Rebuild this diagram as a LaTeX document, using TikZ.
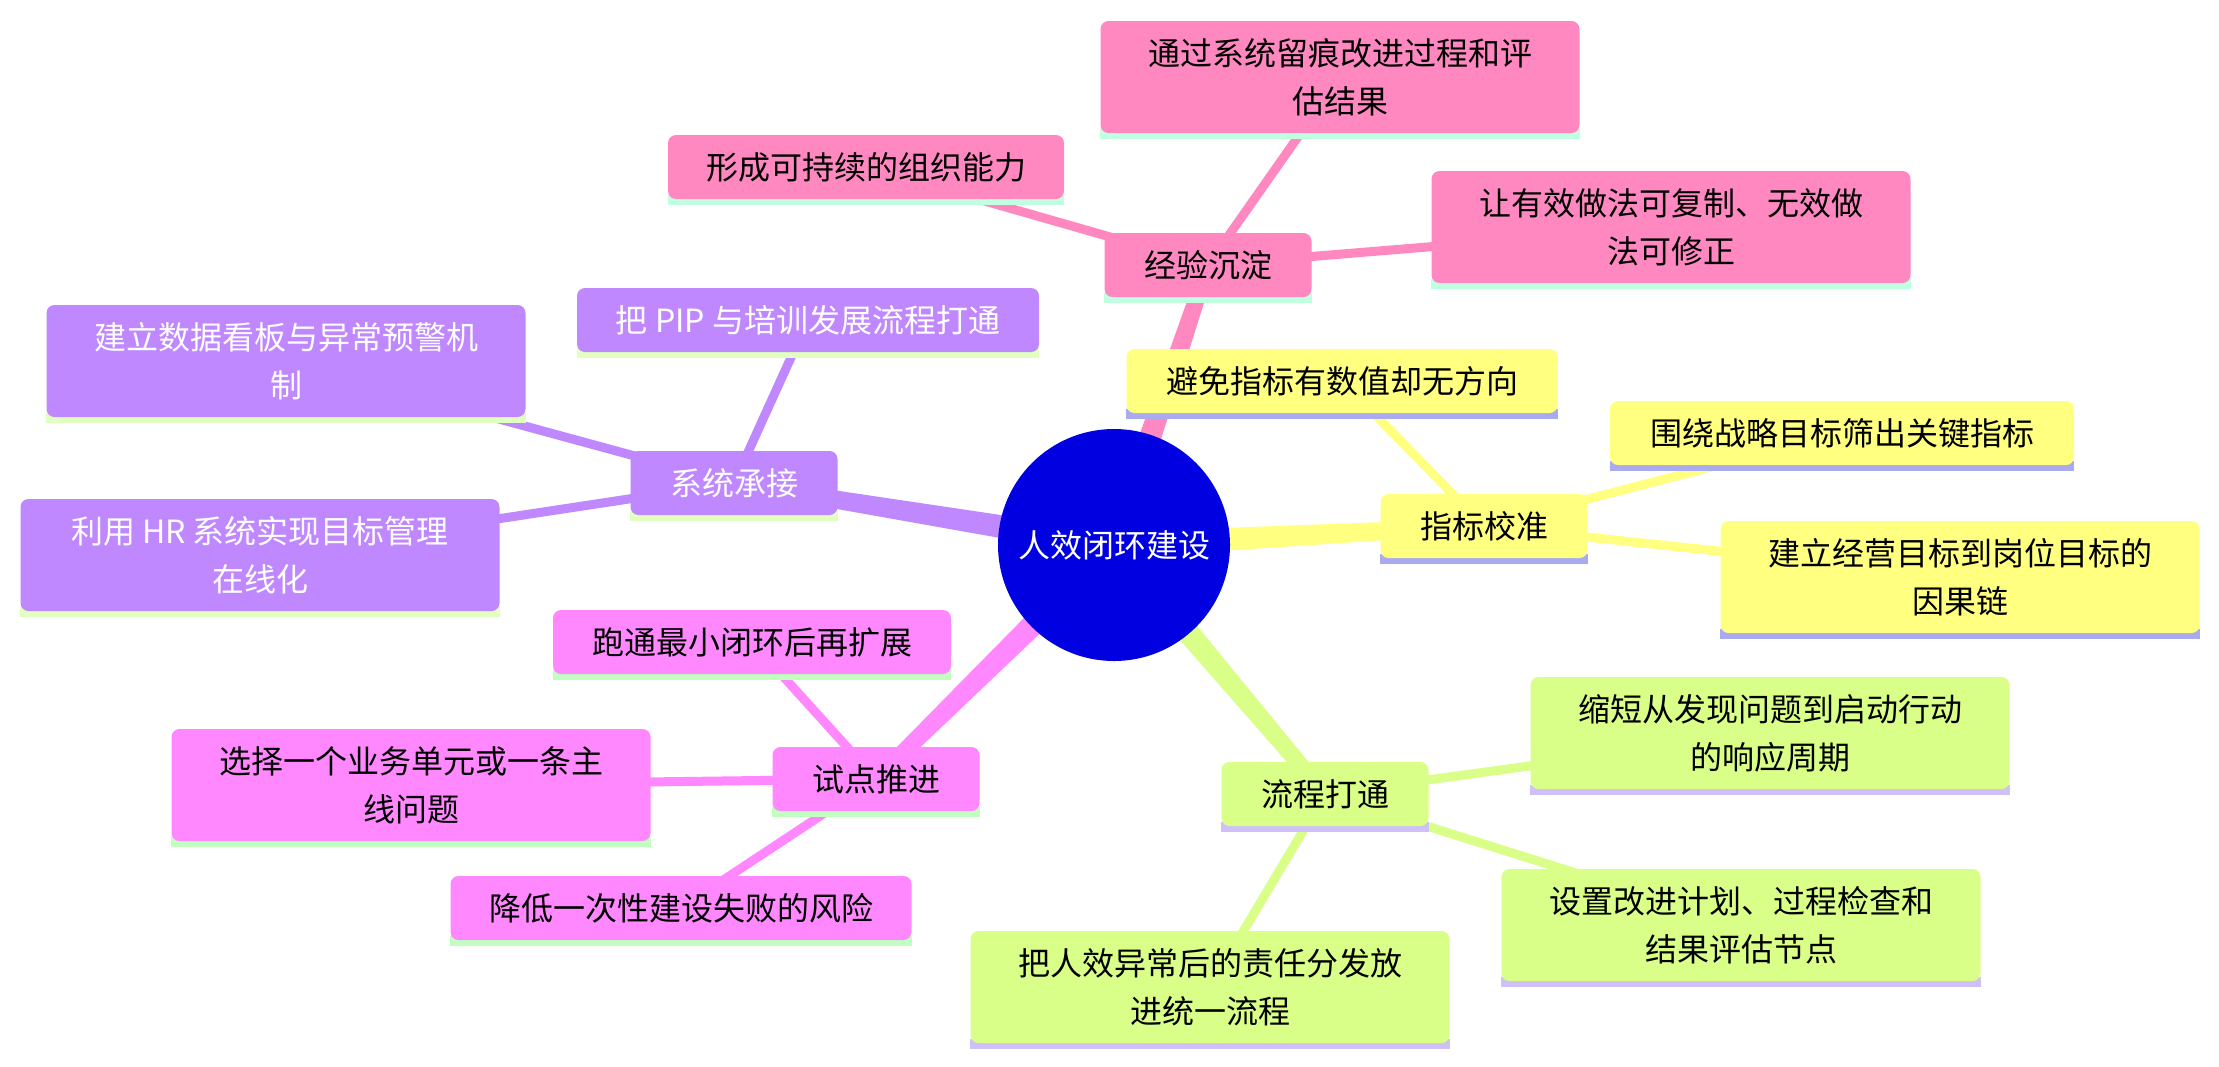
\documentclass[tikz,border=0pt]{standalone}
\usepackage{fontspec}
\setmainfont{Noto Sans CJK SC}
\usetikzlibrary{calc}
\definecolor{pinkc}{HTML}{FF88C0}
\definecolor{yelc}{HTML}{FFFF80}
\definecolor{grnc}{HTML}{D9FF88}
\definecolor{magc}{HTML}{FF88FF}
\definecolor{purc}{HTML}{C088FF}
\definecolor{stpink}{HTML}{C0FFE0}
\definecolor{styel}{HTML}{AAAAF0}
\definecolor{stgrn}{HTML}{D0C0F8}
\definecolor{stmag}{HTML}{C0FFC0}
\definecolor{stpur}{HTML}{E0FFC0}
\definecolor{hubc}{HTML}{0000E0}
\pgfdeclarelayer{bg}
\pgfdeclarelayer{edges}
\pgfdeclarelayer{stripes}
\pgfsetlayers{bg,edges,stripes,main}
\newcommand\mmtaper[3]{\fill[#1] ($(#2)!6.5pt!90:(#3)$) -- ($(#3)!3.8pt!-90:(#2)$) -- ($(#3)!3.8pt!90:(#2)$) -- ($(#2)!6.5pt!-90:(#3)$) -- cycle;}
\newcommand\mmstripe[2]{\fill[#1] ([yshift=2pt]#2.south west) rectangle ([yshift=-2.8pt]#2.south east);}
\begin{document}
\begin{tikzpicture}[x=0.5pt,y=-0.5pt,
  box/.style={rectangle, rounded corners=4pt, align=center, inner sep=0pt,
    font=\fontsize{16pt}{24pt}\selectfont, text=black},
  pbox/.style={box, fill=pinkc},
  ybox/.style={box, fill=yelc},
  gbox/.style={box, fill=grnc},
  mbox/.style={box, fill=magc},
  ubox/.style={box, fill=purc, text=white},
  one/.style={minimum height=32pt},
  two/.style={minimum height=56pt, minimum width=239.5pt},
  mid/.style={minimum width=103.5pt, minimum height=32pt},
  hub/.style={circle, fill=hubc, text=white, minimum size=116pt, inner sep=0pt,
    font=\fontsize{16pt}{24pt}\selectfont},
  cedge/.style={line width=4.5pt}
]
\useasboundingbox (0,0) rectangle (2219,1066);
\begin{pgfonlayer}{bg}
\fill[white] (0,0) rectangle (2219,1066);
\end{pgfonlayer}

% hub
\node[hub] (hub) at (1114,545) {人效闭环建设};

% pink branch
\node[pbox, mid] (jy) at (1208,265) {经验沉淀};
\node[pbox, two] (tg) at (1340,77) {通过系统留痕改进过程和评\\估结果};
\node[pbox, two] (ry) at (1671,227) {让有效做法可复制、无效做\\法可修正};
\node[pbox, one, minimum width=198pt] (xc) at (866,167) {形成可持续的组织能力};

% yellow branch
\node[ybox, mid] (zb) at (1484,526) {指标校准};
\node[ybox, one, minimum width=215.5pt] (bm) at (1342,381) {避免指标有数值却无方向};
\node[ybox, one, minimum width=232pt] (wr) at (1842,433) {围绕战略目标筛出关键指标};
\node[ybox, two] (jl) at (1960,577) {建立经营目标到岗位目标的\\因果链};

% green branch
\node[gbox, mid] (lc) at (1325,794) {流程打通};
\node[gbox, two] (sd) at (1770,733) {缩短从发现问题到启动行动\\的响应周期};
\node[gbox, two] (sz) at (1741,925) {设置改进计划、过程检查和\\结果评估节点};
\node[gbox, two] (br) at (1210,987) {把人效异常后的责任分发放\\进统一流程};

% magenta branch
\node[mbox, mid] (sdt) at (876,779) {试点推进};
\node[mbox, one, minimum width=199pt] (pt) at (752,642) {跑通最小闭环后再扩展};
\node[mbox, two] (xz) at (411,785) {选择一个业务单元或一条主\\线问题};
\node[mbox, one, minimum width=230.5pt] (jd) at (681,908) {降低一次性建设失败的风险};

% purple branch
\node[ubox, mid] (xt) at (734,483) {系统承接};
\node[ubox, one, minimum width=231pt] (pip) at (808,320) {把 PIP 与培训发展流程打通};
\node[ubox, two] (sj) at (286,361) {建立数据看板与异常预警机\\制};
\node[ubox, two] (hr) at (260,555) {利用 HR 系统实现目标管理\\在线化};

\begin{pgfonlayer}{edges}
  \mmtaper{pinkc}{hub}{jy}
  \mmtaper{yelc}{hub}{zb}
  \mmtaper{grnc}{hub}{lc}
  \mmtaper{magc}{hub}{sdt}
  \mmtaper{purc}{hub}{xt}
  \draw[cedge, pinkc] (jy.center) -- (tg.center);
  \draw[cedge, pinkc] (jy.center) -- (ry.center);
  \draw[cedge, pinkc] (jy.center) -- (xc.center);
  \draw[cedge, yelc] (zb.center) -- (bm.center);
  \draw[cedge, yelc] (zb.center) -- (wr.center);
  \draw[cedge, yelc] (zb.center) -- (jl.center);
  \draw[cedge, grnc] (lc.center) -- (sd.center);
  \draw[cedge, grnc] (lc.center) -- (sz.center);
  \draw[cedge, grnc] (lc.center) -- (br.center);
  \draw[cedge, magc] (sdt.center) -- (pt.center);
  \draw[cedge, magc] (sdt.center) -- (xz.center);
  \draw[cedge, magc] (sdt.center) -- (jd.center);
  \draw[cedge, purc] (xt.center) -- (pip.center);
  \draw[cedge, purc] (xt.center) -- (sj.center);
  \draw[cedge, purc] (xt.center) -- (hr.center);
\end{pgfonlayer}

\begin{pgfonlayer}{stripes}
  \foreach \n in {jy,tg,ry,xc} {\mmstripe{stpink}{\n}}
  \foreach \n in {zb,bm,wr,jl} {\mmstripe{styel}{\n}}
  \foreach \n in {lc,sd,sz,br} {\mmstripe{stgrn}{\n}}
  \foreach \n in {sdt,pt,xz,jd} {\mmstripe{stmag}{\n}}
  \foreach \n in {xt,pip,sj,hr} {\mmstripe{stpur}{\n}}
\end{pgfonlayer}
\end{tikzpicture}
\end{document}
